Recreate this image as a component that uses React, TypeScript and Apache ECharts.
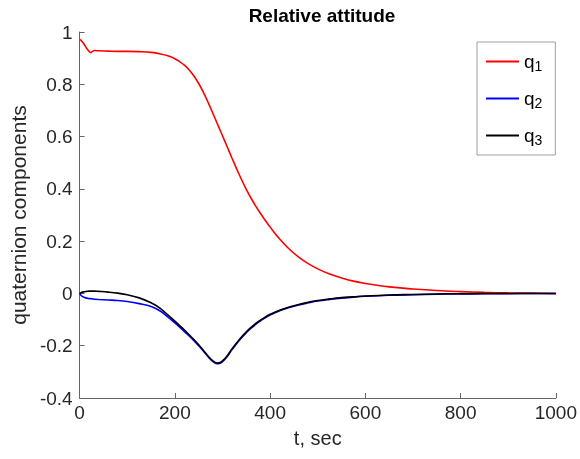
import React, { useEffect, useRef } from "react";
import * as echarts from "echarts";

const tValues = [0, 3, 8, 15, 20, 23, 27, 32, 40, 60, 80, 100, 125, 150, 170, 185, 200, 210, 220, 230, 240, 250, 260, 270, 280, 288, 295, 300, 310, 320, 335, 350, 360, 375, 390, 400, 420, 440, 460, 480, 500, 525, 550, 575, 600, 650, 700, 750, 800, 850, 900, 950, 1000];
const q1Values = [0.972, 0.968, 0.957, 0.937, 0.926, 0.921, 0.926, 0.929, 0.928, 0.927, 0.926, 0.926, 0.925, 0.922, 0.916, 0.909, 0.898, 0.887, 0.873, 0.855, 0.832, 0.803, 0.769, 0.730, 0.688, 0.654, 0.624, 0.603, 0.560, 0.517, 0.455, 0.398, 0.364, 0.319, 0.279, 0.254, 0.208, 0.170, 0.139, 0.114, 0.094, 0.074, 0.059, 0.047, 0.038, 0.025, 0.017, 0.011, 0.007, 0.004, 0.002, 0.001, 0.000];
const q2Values = [0.000, -0.008, -0.014, -0.018, -0.020, -0.020, -0.021, -0.022, -0.023, -0.025, -0.027, -0.031, -0.039, -0.050, -0.068, -0.090, -0.113, -0.129, -0.146, -0.163, -0.181, -0.200, -0.221, -0.243, -0.261, -0.269, -0.267, -0.261, -0.241, -0.215, -0.180, -0.150, -0.133, -0.111, -0.093, -0.083, -0.066, -0.054, -0.044, -0.036, -0.029, -0.023, -0.018, -0.014, -0.011, -0.007, -0.005, -0.003, -0.002, -0.001, -0.001, 0.000, 0.000];
const q3Values = [0.000, 0.003, 0.006, 0.008, 0.009, 0.009, 0.009, 0.009, 0.008, 0.005, 0.001, -0.005, -0.017, -0.036, -0.058, -0.082, -0.106, -0.123, -0.140, -0.158, -0.176, -0.196, -0.218, -0.240, -0.258, -0.266, -0.264, -0.258, -0.238, -0.212, -0.177, -0.147, -0.130, -0.108, -0.090, -0.080, -0.064, -0.052, -0.042, -0.034, -0.027, -0.021, -0.016, -0.013, -0.010, -0.006, -0.004, -0.002, -0.001, -0.0005, 0.000, 0.000, 0.000];

const seriesNames = ["q1", "q2", "q3"];
const seriesColors = ["#ff0000", "#0000ff", "#000000"];
const xTicks = { min: 0, max: 1000, interval: 200 };
const yTicks = { min: -0.4, max: 1, interval: 0.2 };

const FONT = "'Liberation Sans', Arial, Helvetica, sans-serif";
const LINE_ICON = "path://M0,0 L32,0 L32,2 L0,2 Z";

export default function App() {
  const ref = useRef<HTMLDivElement>(null);
  useEffect(() => {
    if (!ref.current) return;
    const chart = echarts.init(ref.current, undefined, { renderer: "svg" });
    const all = [q1Values, q2Values, q3Values];
    chart.setOption({
      animation: false,
      textStyle: { fontFamily: FONT },
      title: {
        text: "Relative attitude",
        left: 317,
        textAlign: "center",
        top: 1,
        textStyle: { fontFamily: FONT, fontWeight: "bold", fontSize: 19, color: "#000" },
      },
      grid: { left: 79, right: 24, top: 32, bottom: 61 },
      legend: {
        orient: "vertical",
        left: 477,
        top: 42,
        padding: [8, 13, 8, 9],
        itemGap: 14,
        itemWidth: 33,
        itemHeight: 14,
        borderColor: "#a0a0a0",
        borderWidth: 1,
        borderRadius: 0,
        backgroundColor: "#fff",
        data: seriesNames.map((n, i) => ({ name: n, icon: LINE_ICON, itemStyle: { color: seriesColors[i] } })),
        formatter: (name: string) => `{q|q}{s|${name.slice(1)}}`,
        textStyle: {
          fontFamily: FONT,
          color: "#000",
          rich: {
            q: { fontSize: 19, lineHeight: 19, fontFamily: FONT, color: "#000" },
            s: { fontSize: 14, lineHeight: 14, fontFamily: FONT, color: "#000", padding: [9, 0, 0, 0] },
          },
        },
      },
      xAxis: {
        type: "value",
        min: xTicks.min,
        max: xTicks.max,
        interval: xTicks.interval,
        name: "t, sec",
        nameLocation: "middle",
        nameGap: 30,
        nameTextStyle: { fontFamily: FONT, fontSize: 20, color: "#262626" },
        axisLine: { show: true, onZero: false, lineStyle: { color: "#666", width: 1 } },
        axisTick: { show: true, inside: true, length: 5, lineStyle: { color: "#666" } },
        axisLabel: { fontFamily: FONT, fontSize: 19, color: "#262626", margin: 5, formatter: (v: number) => String(v) },
        splitLine: { show: false },
      },
      yAxis: {
        type: "value",
        min: yTicks.min,
        max: yTicks.max,
        interval: yTicks.interval,
        name: "quaternion components",
        nameLocation: "middle",
        nameGap: 50,
        nameTextStyle: { fontFamily: FONT, fontSize: 21, color: "#262626" },
        axisLine: { show: true, onZero: false, lineStyle: { color: "#666", width: 1 } },
        axisTick: { show: true, inside: true, length: 5, lineStyle: { color: "#666" } },
        axisLabel: {
          fontFamily: FONT,
          fontSize: 19,
          color: "#262626",
          margin: 7,
          formatter: (v: number) => String(parseFloat(v.toFixed(1))),
        },
        splitLine: { show: false },
      },
      series: seriesNames.map((name, i) => ({
        name,
        type: "line",
        data: tValues.map((t, k) => [t, all[i][k]]),
        smooth: 0.4,
        symbol: "none",
        showSymbol: false,
        lineStyle: { color: seriesColors[i], width: 1.6 },
        itemStyle: { color: seriesColors[i] },
        z: 2 + i,
      })),
    });
    return () => chart.dispose();
  }, []);
  return <div ref={ref} style={{ position: "fixed", left: 0, top: 0, width: 580, height: 459 }} />;
}
